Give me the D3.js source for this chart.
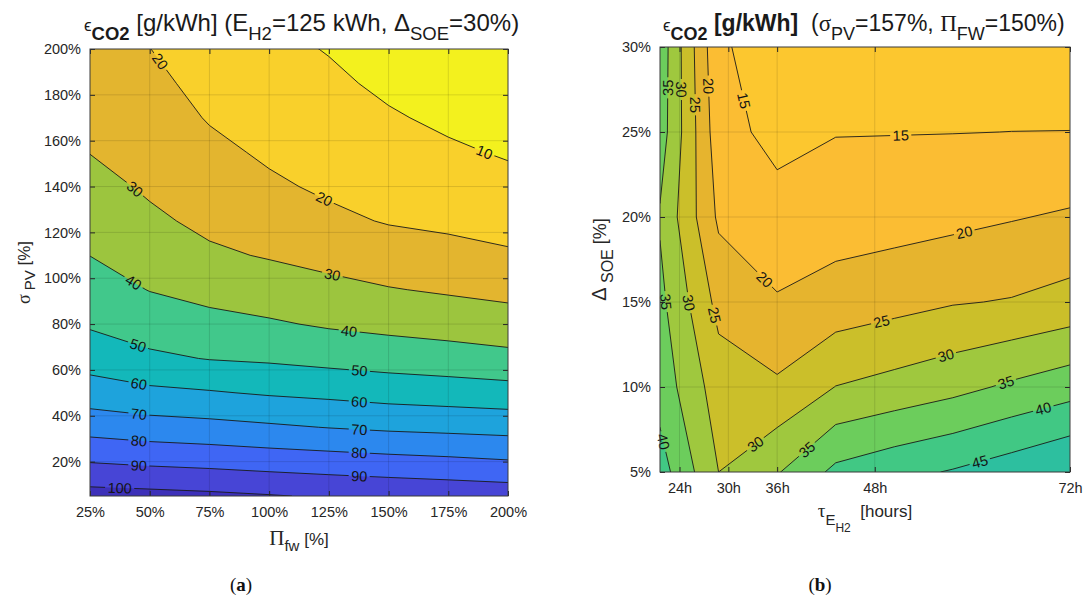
<!DOCTYPE html>
<html>
<head>
<meta charset="utf-8">
<script src="https://cdn.jsdelivr.net/npm/d3@7/dist/d3.min.js"></script>
<style>
  body { margin: 0; background: #fff; }
  svg { display: block; font-family: "Liberation Sans", Arial, Helvetica, sans-serif; }
  text { white-space: pre; }
  .tick text { font-size: 14.5px; fill: #262626; }
  .tick line { stroke: #262626; }
  .clabel { font-size: 14.5px; fill: #141414; }
</style>
</head>
<body>
<svg id="fig" width="1085" height="608"></svg>
<script>
// ---------- panel (a): Pi_fw (columns) x sigma_PV (rows) ----------
const piFw = [25, 50, 75, 100, 125, 150, 175, 200];
const sigmaPv = [5, 20, 35, 50, 65, 80, 95, 110, 125, 140, 155, 170, 185, 200];
// one row per sigmaPv value (bottom to top), one column per piFw value
const co2A = [
  [103.8, 103, 102, 100.6, 99, 98, 97, 96],
  [89.6, 88.1, 87, 85.6, 84.5, 83.2, 82.1, 80.7],
  [76.2, 74.2, 73, 71.4, 69.7, 68.3, 67.4, 66.5],
  [64.7, 62.2, 60.8, 59, 57.7, 56.1, 55.1, 54],
  [55.7, 51.8, 49.6, 48.6, 47, 45.6, 44.3, 42.7],
  [48.9, 45.3, 42.9, 41.1, 38.9, 37.3, 35.9, 34.3],
  [44.4, 39.7, 36.9, 34.9, 32.6, 30.5, 28.9, 27.3],
  [39.9, 35.7, 31.5, 29.3, 27, 24.6, 22.9, 21.1],
  [36.5, 31.7, 27.9, 25.4, 21.9, 19.4, 18.2, 16.7],
  [33.1, 28.7, 25, 21.4, 18.6, 16.6, 14.8, 12.7],
  [29.8, 26.5, 22.1, 18.7, 16.3, 13.8, 11.4, 9.1],
  [27.2, 24.3, 19.4, 16.6, 14.1, 11, 8.2, 6],
  [24.6, 22.1, 17.4, 14.5, 11.8, 8.2, 5.2, 3],
  [22, 20.1, 15.5, 12.5, 9.5, 5.5, 2.2, 0.5]
];
const levelsA = [10, 20, 30, 40, 50, 60, 70, 80, 90, 100];
const xTicksA = [25, 50, 75, 100, 125, 150, 175, 200];
const yTicksA = [20, 40, 60, 80, 100, 120, 140, 160, 180, 200];
// label anchors: [level, Pi_fw, sigma_PV]
const labelsA = [
  [20, 53.3, 193.8], [10, 189.7, 153.9], [30, 42.5, 137.3], [20, 121.9, 132.2],
  [30, 126.2, 100.3], [40, 42.5, 97], [40, 133.4, 76], [50, 44.6, 69.1],
  [50, 137.7, 58.7], [60, 45.4, 53.5], [60, 137.7, 45.7], [70, 45.4, 40.1],
  [70, 137.7, 33.2], [80, 45.4, 28.6], [80, 137.7, 23.5], [90, 45.4, 17.7],
  [90, 137.7, 13.6], [100, 37.4, 8]
];

// ---------- panel (b): tau_EH2 hours (columns) x Delta_SOE (rows) ----------
const tauH = [21.6, 28.8, 36, 43.2, 50.4, 57.6, 64.8, 72];
const deltaSoe = [5, 10, 15, 20, 25, 30];
const co2B = [
  [42.2, 30.0, 34.6, 41.2, 43.5, 45.4, 47.7, 50.25],
  [38.0, 27.5, 25.8, 30.1, 31.7, 33.5, 35.8, 37.9],
  [36.3, 23.5, 20.4, 22.2, 23.4, 24.67, 25.3, 26.75],
  [34.5, 19.18, 17.0, 17.6, 18.05, 18.76, 19.7, 20.6],
  [37.6, 17.0, 13.4, 14.83, 14.87, 14.92, 15.02, 15.05],
  [38.1, 15.7, 12.6, 12.8, 12.6, 12.5, 12.4, 12.3]
];
const levelsB = [15, 20, 25, 30, 35, 40, 45];
const xTicksB = [24, 30, 36, 48, 72];
const yTicksB = [5, 10, 15, 20, 25, 30];
const labelsB = [
  [15, 31.5, 26.8], [15, 51.2, 24.7], [20, 27.4, 27.7], [20, 34.4, 16.3],
  [20, 59.0, 19.1], [25, 25.8, 26.6], [25, 28.0, 14.2], [25, 48.9, 13.7],
  [30, 24.35, 27.5], [30, 24.97, 14.94], [30, 33.4, 6.6], [30, 56.9, 11.6],
  [35, 22.6, 27.6], [35, 21.9, 15.0], [35, 39.7, 6.3], [35, 64.1, 10.3],
  [40, 22.1, 6.8], [40, 68.4, 9.3], [45, 60.8, 5.8]
];

// band fills (below first level ... above last level)
const fillsA = ["#f3f11e", "#f9d02b", "#e3b52f", "#9cc53e", "#41c88b", "#13b8ba",
                "#1ea3dc", "#2c88ee", "#3f66f4", "#4745d6", "#3d30b9"];
const fillsB = ["#fcc72f", "#fbbd33", "#e6b42e", "#cbbf2a", "#9fc83e", "#6ccd5c",
                "#41c884", "#2dbf9f"];

const serif = "'Liberation Serif', 'Times New Roman', serif";
const svg = d3.select("#fig");
const defs = svg.append("defs");

const addRich = (x, y, parts, opts = {}) => {
  const t = svg.append("text").attr("x", x).attr("y", y)
    .attr("text-anchor", opts.anchor || "start")
    .attr("fill", opts.fill || "#1a1a1a");
  if (opts.rotate) t.attr("transform", `rotate(${opts.rotate},${x},${y})`);
  let shift = 0;
  parts.forEach((p) => {
    const s = t.append("tspan").text(p.t).attr("font-size", p.size)
      .attr("dy", (p.shift || 0) - shift);
    shift = p.shift || 0;
    if (p.bold) s.attr("font-weight", "bold");
    if (p.serif) s.attr("font-family", serif);
  });
  return t;
};

const drawPanel = (cfg) => {
  const { id, box, xs, ys, grid, levels, fills, xTicks, xFmt, yTicks, yFmt, labels } = cfg;
  const n = xs.length, m = ys.length;
  const x = d3.scaleLinear().domain([xs[0], xs[n - 1]]).range([box.left, box.right]);
  const y = d3.scaleLinear().domain([ys[0], ys[m - 1]]).range([box.bottom, box.top]);
  // contour grid coordinates: sample k sits at k + 0.5
  const gx = d3.scaleLinear().domain(d3.range(n).map((k) => k + 0.5)).range(xs);
  const gy = d3.scaleLinear().domain(d3.range(m).map((k) => k + 0.5)).range(ys);
  const project = (p) => [x(gx(p[0])), y(gy(p[1]))];
  const path = d3.geoPath(d3.geoTransform({
    point(px, py) { const q = project([px, py]); this.stream.point(q[0], q[1]); }
  }));

  const contours = d3.contours().size([n, m]).thresholds(levels)(grid.flat());

  defs.append("clipPath").attr("id", "clip-" + id).append("rect")
    .attr("x", box.left).attr("y", box.top)
    .attr("width", box.right - box.left).attr("height", box.bottom - box.top);
  const mask = defs.append("mask").attr("id", "mask-" + id)
    .attr("maskUnits", "userSpaceOnUse")
    .attr("x", 0).attr("y", 0).attr("width", 1085).attr("height", 608);
  mask.append("rect").attr("width", 1085).attr("height", 608).attr("fill", "#fff");

  const plot = svg.append("g").attr("clip-path", `url(#clip-${id})`);
  plot.append("rect")
    .attr("x", box.left).attr("y", box.top)
    .attr("width", box.right - box.left).attr("height", box.bottom - box.top)
    .attr("fill", fills[0]);
  plot.selectAll("path.band").data(contours).join("path")
    .attr("class", "band")
    .attr("d", path)
    .attr("fill", (d, i) => fills[i + 1]);

  // grid lines
  plot.selectAll("line.gx").data(xTicks.filter((t) => t > xs[0] && t < xs[n - 1])).join("line")
    .attr("x1", (d) => x(d)).attr("x2", (d) => x(d))
    .attr("y1", box.top).attr("y2", box.bottom)
    .attr("stroke", "#000").attr("stroke-opacity", 0.12);
  plot.selectAll("line.gy").data(yTicks.filter((t) => t > ys[0] && t < ys[m - 1])).join("line")
    .attr("y1", (d) => y(d)).attr("y2", (d) => y(d))
    .attr("x1", box.left).attr("x2", box.right)
    .attr("stroke", "#000").attr("stroke-opacity", 0.12);

  plot.append("g").attr("mask", `url(#mask-${id})`)
    .selectAll("path").data(contours).join("path")
    .attr("d", path)
    .attr("fill", "none")
    .attr("stroke", "#1a1a1a")
    .attr("stroke-width", 0.9)
    .attr("stroke-linejoin", "round");

  // contour labels, snapped to the nearest piece of their contour line
  const inside = (px, py) => px > box.left + 0.5 && px < box.right - 0.5 &&
    py > box.top + 0.5 && py < box.bottom - 0.5;
  labels.forEach(([level, lx, ly]) => {
    const contour = contours[levels.indexOf(level)];
    const P = [x(lx), y(ly)];
    let best = null;
    contour.coordinates.forEach((poly) => poly.forEach((ring) => {
      for (let i = 0; i < ring.length - 1; i++) {
        const a = project(ring[i]), b = project(ring[i + 1]);
        if (!inside((a[0] + b[0]) / 2, (a[1] + b[1]) / 2)) continue;
        const dx = b[0] - a[0], dy = b[1] - a[1];
        const len2 = dx * dx + dy * dy;
        if (!len2) continue;
        let t = ((P[0] - a[0]) * dx + (P[1] - a[1]) * dy) / len2;
        t = Math.max(0, Math.min(1, t));
        const q = [a[0] + t * dx, a[1] + t * dy];
        const d = Math.hypot(P[0] - q[0], P[1] - q[1]);
        if (!best || d < best.d) best = { d, q, angle: Math.atan2(dy, dx) * 180 / Math.PI };
      }
    }));
    if (!best) return;
    let ang = best.angle;
    if (ang > 90) ang -= 180;
    if (ang <= -90) ang += 180;
    const tf = `translate(${best.q[0]},${best.q[1]}) rotate(${ang})`;
    const txt = svg.append("text").attr("class", "clabel")
      .attr("transform", tf)
      .attr("text-anchor", "middle").attr("dy", "0.36em")
      .text(level);
    const w = txt.node().getComputedTextLength() + 5;
    mask.append("rect").attr("transform", tf)
      .attr("x", -w / 2).attr("y", -7).attr("width", w).attr("height", 14)
      .attr("fill", "#000");
  });

  // axes: labelled bottom/left, inward ticks on all four sides
  const fixAxis = (a) => {
    a.select(".domain").remove();
    a.attr("font-size", null).attr("font-family", null);
  };
  svg.append("g").attr("transform", `translate(0,${box.bottom})`)
    .call(d3.axisBottom(x).tickValues(xTicks).tickFormat(xFmt).tickSize(-5).tickPadding(11))
    .call(fixAxis);
  svg.append("g").attr("transform", `translate(${box.left},0)`)
    .call(d3.axisLeft(y).tickValues(yTicks).tickFormat(yFmt).tickSize(-5).tickPadding(9))
    .call(fixAxis);
  svg.append("g").attr("transform", `translate(0,${box.top})`)
    .call(d3.axisTop(x).tickValues(xTicks).tickFormat("").tickSize(-5))
    .call(fixAxis);
  svg.append("g").attr("transform", `translate(${box.right},0)`)
    .call(d3.axisRight(y).tickValues(yTicks).tickFormat("").tickSize(-5))
    .call(fixAxis);
  svg.append("rect")
    .attr("x", box.left).attr("y", box.top)
    .attr("width", box.right - box.left).attr("height", box.bottom - box.top)
    .attr("fill", "none").attr("stroke", "#3a3a3a").attr("stroke-width", 1);
};

const boxA = { left: 90, right: 508, top: 49, bottom: 496 };
const boxB = { left: 660, right: 1070, top: 47, bottom: 472 };

drawPanel({
  id: "a", box: boxA, xs: piFw, ys: sigmaPv, grid: co2A, levels: levelsA, fills: fillsA,
  xTicks: xTicksA, xFmt: (d) => d + "%", yTicks: yTicksA, yFmt: (d) => d + "%", labels: labelsA
});
drawPanel({
  id: "b", box: boxB, xs: tauH, ys: deltaSoe, grid: co2B, levels: levelsB, fills: fillsB,
  xTicks: xTicksB, xFmt: (d) => d + "h", yTicks: yTicksB, yFmt: (d) => d + "%", labels: labelsB
});

// titles
addRich(84, 31, [
  { t: "ϵ", size: 17 }, { t: "CO2", size: 18.5, bold: true, shift: 9 },
  { t: " [g/kWh] (E", size: 24 }, { t: "H2", size: 18.5, shift: 9 },
  { t: "=125 kWh, Δ", size: 24 }, { t: "SOE", size: 18.5, shift: 9 },
  { t: "=30%)", size: 24 }
]);
addRich(663, 31, [
  { t: "ϵ", size: 17 }, { t: "CO2", size: 18, bold: true, shift: 9 },
  { t: " [g/kWh]", size: 23, bold: true }, { t: "  (", size: 23 },
  { t: "σ", size: 23, serif: true }, { t: "PV", size: 18, shift: 9 },
  { t: "=157%, ", size: 23 }, { t: "Π", size: 23, serif: true },
  { t: "FW", size: 18, shift: 9 }, { t: "=150%)", size: 23 }
]);

// axis labels
addRich((boxA.left + boxA.right) / 2, 545, [
  { t: "Π", size: 21, serif: true }, { t: "fw", size: 15, shift: 6 }, { t: " [%]", size: 17 }
], { anchor: "middle", fill: "#262626" });
addRich(30, (boxA.top + boxA.bottom) / 2, [
  { t: "σ", size: 18, serif: true }, { t: " PV", size: 15, shift: 5 }, { t: " [%]", size: 17 }
], { anchor: "middle", rotate: -90, fill: "#262626" });
addRich((boxB.left + boxB.right) / 2, 517, [
  { t: "τ", size: 19, serif: true }, { t: "E", size: 15, shift: 8 },
  { t: "H2", size: 12, shift: 15 }, { t: "  [hours]", size: 17 }
], { anchor: "middle", fill: "#262626" });
addRich(606, (boxB.top + boxB.bottom) / 2, [
  { t: "Δ", size: 20 }, { t: " SOE", size: 16, shift: 7 }, { t: " [%]", size: 18 }
], { anchor: "middle", rotate: -90, fill: "#262626" });

// panel captions
addRich(241, 591, [
  { t: "(", size: 19, serif: true }, { t: "a", size: 19, serif: true, bold: true }, { t: ")", size: 19, serif: true }
], { anchor: "middle", fill: "#111" });
addRich(820, 591, [
  { t: "(", size: 19, serif: true }, { t: "b", size: 19, serif: true, bold: true }, { t: ")", size: 19, serif: true }
], { anchor: "middle", fill: "#111" });
</script>
</body>
</html>
